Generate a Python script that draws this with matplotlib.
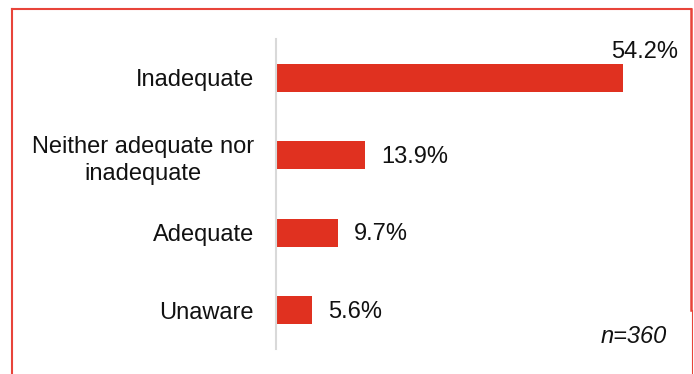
import matplotlib
matplotlib.use("Agg")
import matplotlib.pyplot as plt
from matplotlib.lines import Line2D

plt.rcParams['font.family'] = ['Liberation Sans', 'DejaVu Sans']

categories = ["Inadequate", "Neither adequate nor\ninadequate", "Adequate", "Unaware"]
values = [54.2, 13.9, 9.7, 5.6]
sample_note = "n=360"

bar_color = "#e03120"
frame_color = "#e8443a"

fig = plt.figure(figsize=(6.94, 3.74), dpi=100)
W, H = 694, 374
ax = fig.add_axes([276 / W, (H - 349) / H, 400 / W, 310 / H])

pos = list(range(len(categories)))
ax.barh(pos, values, height=0.36, color=bar_color)
ax.set_xlim(0, 62.5)
ax.set_ylim(3.5, -0.5)

ax.set_yticks(pos)
ax.set_yticklabels(categories, fontsize=17, color="#111111")
ax.tick_params(axis='y', length=0, pad=15.8)
for t in ax.get_yticklabels():
    t.set_multialignment('center')
    t.set_linespacing(1.3)
ax.set_xticks([])
for side in ["top", "right", "bottom"]:
    ax.spines[side].set_visible(False)
ax.spines["left"].set_color("#d9d9d9")
ax.spines["left"].set_linewidth(1.5)

# value labels: the long bar gets its label above the bar end
for i, v in enumerate(values):
    if v > 50:
        ax.annotate(f"{v}%", xy=(v, i), xytext=(-8.3, 14.5), textcoords='offset points',
                    ha='left', va='baseline', fontsize=17, color="#111111")
    else:
        ax.annotate(f"{v}%", xy=(v, i), xytext=(11.5, -1), textcoords='offset points',
                    ha='left', va='center', fontsize=17, color="#111111")

fig.text(667 / W, (H - 343) / H, sample_note, ha='right', va='baseline',
         fontsize=17, style='italic', color="#111111")

# red frame around the chart (open at the bottom)
fig.add_artist(Line2D([12 / W, 12 / W], [0, (H - 9) / H], color=frame_color, lw=1.5,
                      transform=fig.transFigure))
fig.add_artist(Line2D([12 / W, 691 / W], [(H - 9) / H, (H - 9) / H], color=frame_color,
                      lw=1.5, transform=fig.transFigure))
fig.add_artist(Line2D([691 / W, 691 / W], [(H - 310) / H, (H - 9) / H], color=frame_color,
                      lw=1.8, transform=fig.transFigure))
fig.add_artist(Line2D([692 / W, 692 / W], [0, (H - 310) / H], color=frame_color, lw=0.8,
                      transform=fig.transFigure))

fig.savefig("out.png", dpi=100)
